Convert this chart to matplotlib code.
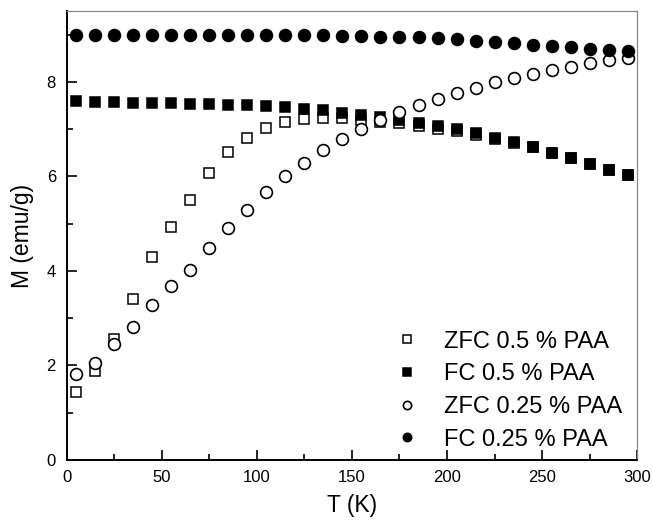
import numpy as np
import matplotlib
matplotlib.use("Agg")
import matplotlib.pyplot as plt
from matplotlib.ticker import MultipleLocator

plt.rcParams['font.family'] = ['Liberation Sans', 'DejaVu Sans']

# temperature (K)
T = [5, 15, 25, 35, 45, 55, 65, 75, 85, 95, 105, 115, 125, 135, 145,
     155, 165, 175, 185, 195, 205, 215, 225, 235, 245, 255, 265, 275, 285, 295]

# magnetisation (emu/g)
zfc_05 = [1.43, 1.89, 2.57, 3.40, 4.29, 4.92, 5.50, 6.08, 6.51, 6.82, 7.02, 7.15, 7.21, 7.24, 7.23,
          7.20, 7.16, 7.12, 7.06, 7.01, 6.96, 6.88, 6.80, 6.71, 6.62, 6.50, 6.40, 6.26, 6.14, 6.02]
fc_05 = [7.60, 7.58, 7.57, 7.56, 7.55, 7.55, 7.54, 7.53, 7.52, 7.51, 7.49, 7.47, 7.43, 7.40, 7.35,
         7.30, 7.25, 7.20, 7.14, 7.07, 7.01, 6.91, 6.82, 6.72, 6.62, 6.50, 6.40, 6.26, 6.14, 6.02]
zfc_025 = [1.83, 2.06, 2.45, 2.82, 3.27, 3.68, 4.02, 4.48, 4.90, 5.30, 5.67, 6.00, 6.29, 6.56, 6.79,
           7.00, 7.20, 7.36, 7.51, 7.64, 7.77, 7.88, 7.99, 8.08, 8.17, 8.25, 8.32, 8.39, 8.47, 8.51]
fc_025 = [9.00, 9.00, 9.00, 9.00, 9.00, 9.00, 9.00, 9.00, 9.00, 9.00, 9.00, 9.00, 8.99, 8.99, 8.98,
          8.97, 8.96, 8.95, 8.94, 8.92, 8.90, 8.87, 8.85, 8.82, 8.79, 8.76, 8.73, 8.70, 8.67, 8.66]

labels = ['ZFC 0.5 % PAA', 'FC 0.5 % PAA', 'ZFC 0.25 % PAA', 'FC 0.25 % PAA']

fig = plt.figure(figsize=(6.53, 5.22), dpi=100)
ax = fig.add_axes([0.1026, 0.1188, 0.8729, 0.8601])

ax.plot(T, zfc_05, 's', ms=7.5, mfc='white', mec='black', mew=1.1, label=labels[0])
ax.plot(T, fc_05, 's', ms=7.5, mfc='black', mec='black', mew=1.1, label=labels[1])
ax.plot(T, zfc_025, 'o', ms=8.5, mfc='white', mec='black', mew=1.2, label=labels[2])
ax.plot(T, fc_025, 'o', ms=8.5, mfc='black', mec='black', mew=1.2, label=labels[3])

ax.set_xlim(0, 300)
ax.set_ylim(0, 9.5)
ax.xaxis.set_major_locator(MultipleLocator(50))
ax.xaxis.set_minor_locator(MultipleLocator(25))
ax.yaxis.set_major_locator(MultipleLocator(2))
ax.yaxis.set_minor_locator(MultipleLocator(1))
ax.tick_params(which='both', direction='in', top=False, right=False, width=1.2, labelsize=12)
ax.tick_params(which='major', length=7)
ax.tick_params(which='minor', length=4)
ax.tick_params(axis='x', which='major', pad=7)
ax.tick_params(axis='y', which='major', pad=8)

ax.spines['left'].set_linewidth(1.4)
ax.spines['bottom'].set_linewidth(1.4)
for s in ['top', 'right']:
    ax.spines[s].set_color('#888888')
    ax.spines[s].set_linewidth(0.9)

ax.set_xlabel('T (K)', fontsize=16.5, labelpad=7)
ax.set_ylabel('M (emu/g)', fontsize=16.5, labelpad=9)

ax.legend(loc='lower right', bbox_to_anchor=(0.991, 0.0), frameon=False, fontsize=17,
          markerscale=0.7, handlelength=1.0, handletextpad=1.1, labelspacing=0.45,
          borderaxespad=0.1, borderpad=0.3)

fig.savefig('out.png', dpi=100)
